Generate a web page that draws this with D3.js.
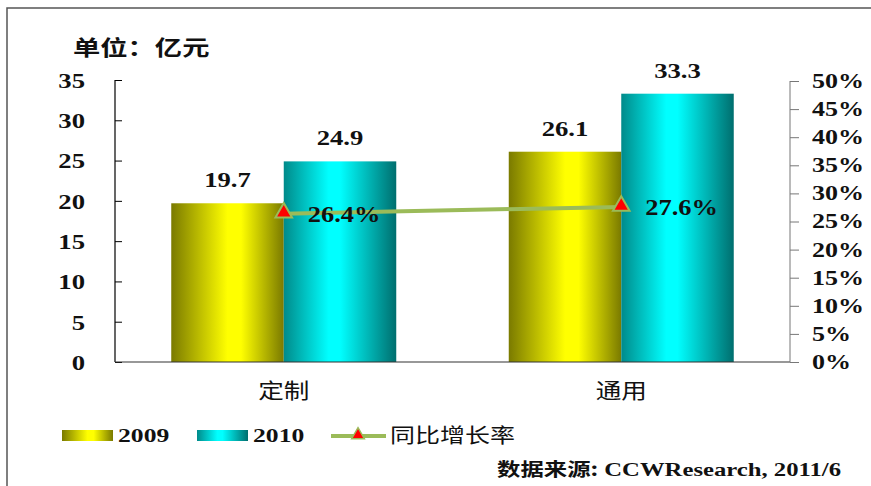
<!DOCTYPE html>
<html><head><meta charset="utf-8">
<script src="https://cdn.jsdelivr.net/npm/d3@7"></script>
<style>body{margin:0;background:#fff}svg{display:block}</style>
</head><body>
<svg id="c" width="871" height="486"></svg>
<script>
const categories = ["定制", "通用"];
const seriesNames = ["2009", "2010"];
const values2009 = [19.7, 26.1];
const values2010 = [24.9, 33.3];
const growth = [0.264, 0.276];
const growthLabels = ["26.4%", "27.6%"];
const leftTicks = [0, 5, 10, 15, 20, 25, 30, 35];
const rightTicks = [0, 0.05, 0.10, 0.15, 0.20, 0.25, 0.30, 0.35, 0.40, 0.45, 0.50];

const svg = d3.select("#c");
const serif = "'Liberation Serif','Times New Roman',serif";
const cjk = "'Noto Sans CJK SC','Noto Sans CJK JP',sans-serif";

// horizontal stretch about each text's anchor x
function stretch(sel, s) {
  sel.each(function() {
    const t = d3.select(this);
    const ax = +(t.attr("x") || 0);
    t.attr("transform", `translate(${ax * (1 - s)},0) scale(${s},1)`);
  });
}

const defs = svg.append("defs");
function grad(id, stops) {
  const g = defs.append("linearGradient").attr("id", id).attr("x1", "0").attr("x2", "1").attr("y1", "0").attr("y2", "0");
  stops.forEach(s => g.append("stop").attr("offset", s[0]).attr("stop-color", s[1]));
}
grad("g2009", [[0, "#7a7a00"], [0.5, "#ffff00"], [0.62, "#ffff00"], [1, "#7a7a00"]]);
grad("g2010", [[0, "#008a8a"], [0.4, "#00ffff"], [0.5, "#00ffff"], [1, "#006e6e"]]);

// frame
svg.append("path").attr("d", "M7,486 V8 H871").attr("fill", "none").attr("stroke", "#555").attr("stroke-width", 1.5);

const x0 = 115, x1 = 790, yTop = 80, yBot = 362;
const x = d3.scaleBand().domain(categories).range([x0, x1]).paddingInner(1/3).paddingOuter(1/6);
const xs = d3.scaleBand().domain(seriesNames).range([0, x.bandwidth()]);
const y = d3.scaleLinear().domain([0, 35]).range([yBot, yTop]);
const y2 = d3.scaleLinear().domain([0, 0.5]).range([yBot, yTop + 1]);

// bars
const data = categories.map((c, i) => ({c, v: [values2009[i], values2010[i]]}));
const groups = svg.append("g").selectAll("g").data(data).join("g")
  .attr("transform", d => `translate(${x(d.c)},0)`);
groups.selectAll("rect").data(d => d.v.map((v, j) => ({v, s: seriesNames[j]}))).join("rect")
  .attr("x", d => xs(d.s)).attr("width", xs.bandwidth())
  .attr("y", d => y(d.v)).attr("height", d => yBot - y(d.v))
  .attr("fill", d => `url(#g${d.s})`);
const barLabels = groups.selectAll("text").data(d => d.v.map((v, j) => ({v, s: seriesNames[j]}))).join("text")
  .attr("x", d => xs(d.s) + xs.bandwidth() / 2).attr("y", d => y(d.v) - 16)
  .attr("text-anchor", "middle").attr("font-family", serif).attr("font-weight", "bold")
  .attr("font-size", 21).attr("fill", "#111").text(d => d.v.toFixed(1));
stretch(barLabels, 1.27);

// left axis
const la = svg.append("g").attr("transform", `translate(${x0},0)`)
  .call(d3.axisLeft(y).tickValues(leftTicks).tickSize(-7).tickPadding(30).tickFormat(d3.format("d")));
la.select(".domain").attr("stroke", "#000").attr("stroke-width", 1.2).attr("d", `M0,${yTop}H0V${yBot}`);
la.selectAll(".tick line").attr("stroke", "#000");
la.selectAll("text").attr("font-family", serif).attr("font-weight", "bold").attr("font-size", 21).attr("fill", "#111").attr("dy", "0.35em");
stretch(la.selectAll("text"), 1.27);

// bottom axis
svg.append("line").attr("x1", x0).attr("x2", x1).attr("y1", yBot).attr("y2", yBot).attr("stroke", "#333").attr("stroke-width", 1.2);
const catLabels = svg.append("g").selectAll("text").data(categories).join("text")
  .attr("x", d => x(d) + x.bandwidth() / 2).attr("y", 398)
  .attr("text-anchor", "middle").attr("font-family", cjk).attr("font-size", 21).attr("fill", "#111").text(d => d);
stretch(catLabels, 1.22);

// right axis
const ra = svg.append("g").attr("transform", `translate(${x1},0)`)
  .call(d3.axisRight(y2).tickValues(rightTicks).tickSize(9).tickPadding(13).tickFormat(d3.format(".0%")));
ra.select(".domain").attr("stroke", "#777").attr("d", `M0,${yTop + 1}V${yBot}`);
ra.selectAll(".tick line").attr("stroke", "#777");
ra.selectAll("text").attr("font-family", serif).attr("font-weight", "bold").attr("font-size", 20).attr("fill", "#111");
stretch(ra.selectAll("text"), 1.3);

// growth line
const cx = c => x(c) + x.bandwidth() / 2;
const line = d3.line().x((d, i) => cx(categories[i])).y(d => y2(d));
svg.append("path").datum(growth).attr("d", line).attr("fill", "none").attr("stroke", "#9bbb59").attr("stroke-width", 4);
const tri = d3.symbol().type(d3.symbolTriangle).size(120);
svg.append("g").selectAll("path").data(growth).join("path")
  .attr("transform", (d, i) => `translate(${cx(categories[i])},${y2(d) - 1})`)
  .attr("d", tri).attr("fill", "#ff0000").attr("stroke", "#9bbb59").attr("stroke-width", 2);
const gLabels = svg.append("g").selectAll("text").data(growth).join("text")
  .attr("x", (d, i) => cx(categories[i]) + 24).attr("y", d => y2(d) + 8)
  .attr("font-family", serif).attr("font-weight", "bold").attr("font-size", 23).attr("fill", "#111")
  .text((d, i) => growthLabels[i]);
stretch(gLabels, 1.15);

// title
const title = svg.append("text").attr("x", 73).attr("y", 55).attr("font-family", cjk).attr("font-weight", "bold")
  .attr("font-size", 21).attr("fill", "#111").text("单位：亿元");
stretch(title, 1.3);

// legend
const lg = svg.append("g");
[["2009", 62], ["2010", 197]].forEach(([s, lx]) => {
  lg.append("rect").attr("x", lx).attr("y", 430).attr("width", 51).attr("height", 11).attr("fill", `url(#g${s})`);
  const t = lg.append("text").attr("x", lx + 56).attr("y", 442).attr("font-family", serif).attr("font-weight", "bold")
    .attr("font-size", 19).attr("fill", "#111").text(s);
  stretch(t, 1.35);
});
lg.append("line").attr("x1", 331).attr("x2", 386).attr("y1", 436).attr("y2", 436).attr("stroke", "#9bbb59").attr("stroke-width", 4);
lg.append("path").attr("transform", "translate(358,435)").attr("d", d3.symbol().type(d3.symbolTriangle).size(70)).attr("fill", "#ff0000").attr("stroke", "#9bbb59").attr("stroke-width", 1.5);
const lt = lg.append("text").attr("x", 390).attr("y", 443).attr("font-family", cjk).attr("font-size", 20).attr("fill", "#111").text("同比增长率");
stretch(lt, 1.25);

// source
const src = svg.append("text").attr("x", 497).attr("y", 476).attr("fill", "#111");
src.append("tspan").attr("font-family", cjk).attr("font-weight", "bold").attr("font-size", 18).text("数据来源:");
src.append("tspan").attr("font-family", serif).attr("font-weight", "bold").attr("font-size", 19).text(" CCWResearch, 2011/6");
stretch(src, 1.3);
</script>
</body></html>
